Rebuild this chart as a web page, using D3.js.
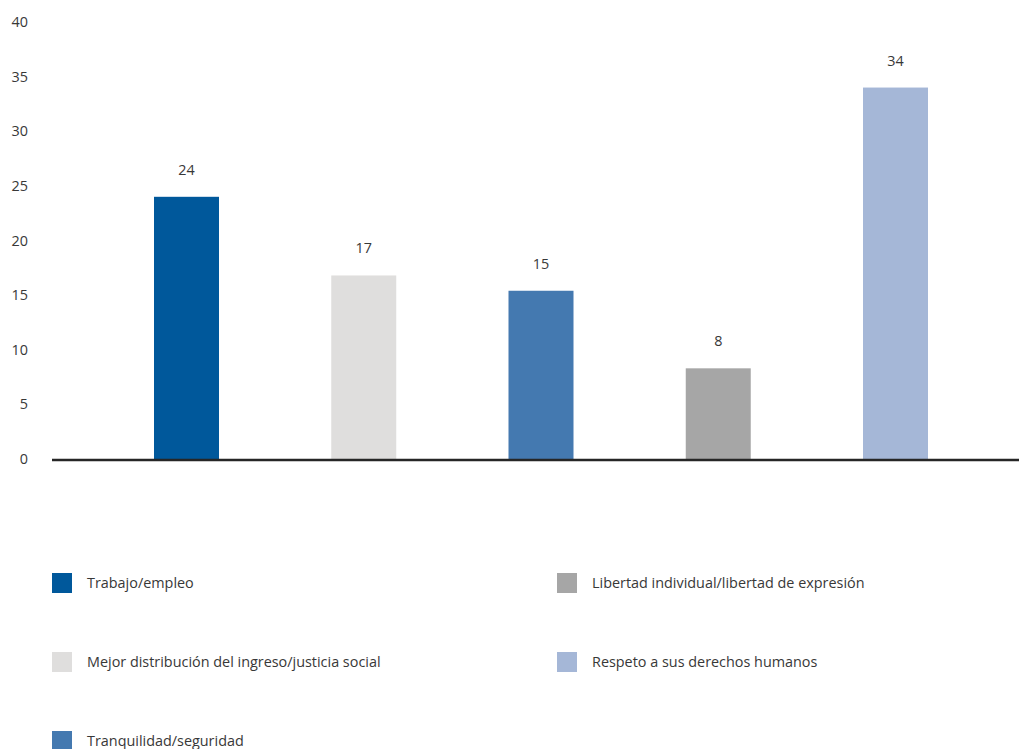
<!DOCTYPE html>
<html>
<head>
<meta charset="utf-8">
<script src="https://cdn.jsdelivr.net/npm/d3@7/dist/d3.min.js"></script>
<style>
  html, body { margin: 0; padding: 0; background: #ffffff; }
  svg { display: block; }
  text { font-family: "Open Sans", "Noto Sans", sans-serif; font-weight: 400; fill: #383838; }
</style>
</head>
<body>
<svg id="chart" width="1019" height="749"></svg>
<script>
// Categories, values (percent) and colours
const categories = [
  "Trabajo/empleo",
  "Mejor distribución del ingreso/justicia social",
  "Tranquilidad/seguridad",
  "Libertad individual/libertad de expresión",
  "Respeto a sus derechos humanos"
];
const values = [24, 16.8, 15.4, 8.3, 34];
const colors = ["#00589b", "#dfdedd", "#4479b0", "#a6a6a6", "#a5b7d7"];
const yTicks = [0, 5, 10, 15, 20, 25, 30, 35, 40];

const FONT_SIZE = "14.4px";
const svg = d3.select("#chart");

const x = d3.scaleBand()
  .domain(categories)
  .range([154, 928])
  .paddingInner(0.6333)
  .paddingOuter(0);

const y = d3.scaleLinear()
  .domain([0, 40])
  .range([459, 22]);

// Y axis: labels only
const yAxis = svg.append("g")
  .attr("transform", "translate(28,0)")
  .call(d3.axisLeft(y).tickValues(yTicks).tickSize(0).tickPadding(0));
yAxis.select(".domain").remove();
yAxis.selectAll("text")
  .style("font-size", FONT_SIZE)
  .style("font-family", "\"Open Sans\", \"Noto Sans\", sans-serif")
  .attr("fill", "#383838");

// Bars
svg.append("g").selectAll("rect")
  .data(categories)
  .join("rect")
  .attr("x", d => x(d))
  .attr("width", x.bandwidth())
  .attr("y", (d, i) => y(values[i]))
  .attr("height", (d, i) => y(0) - y(values[i]))
  .attr("fill", (d, i) => colors[i]);

// Value labels
svg.append("g").selectAll("text")
  .data(categories)
  .join("text")
  .attr("x", d => x(d) + x.bandwidth() / 2)
  .attr("y", (d, i) => y(values[i]) - 22)
  .attr("text-anchor", "middle")
  .style("font-size", FONT_SIZE)
  .text((d, i) => d3.format(".0f")(values[i]));

// Baseline
svg.append("line")
  .attr("x1", 52).attr("x2", 1019)
  .attr("y1", y(0) + 1).attr("y2", y(0) + 1)
  .attr("stroke", "#262626")
  .attr("stroke-width", 2.5);

// Legend: two columns, filled top to bottom
const legendCols = [52, 557];
const legendRows = [573, 652, 731];
const legend = svg.append("g").selectAll("g")
  .data(categories)
  .join("g")
  .attr("transform", (d, i) => `translate(${legendCols[Math.floor(i / 3)]},${legendRows[i % 3]})`);
legend.append("rect")
  .attr("width", 20).attr("height", 20)
  .attr("fill", (d, i) => colors[i]);
legend.append("text")
  .attr("x", 35).attr("y", 15)
  .style("font-size", FONT_SIZE)
  .text(d => d);
</script>
</body>
</html>
